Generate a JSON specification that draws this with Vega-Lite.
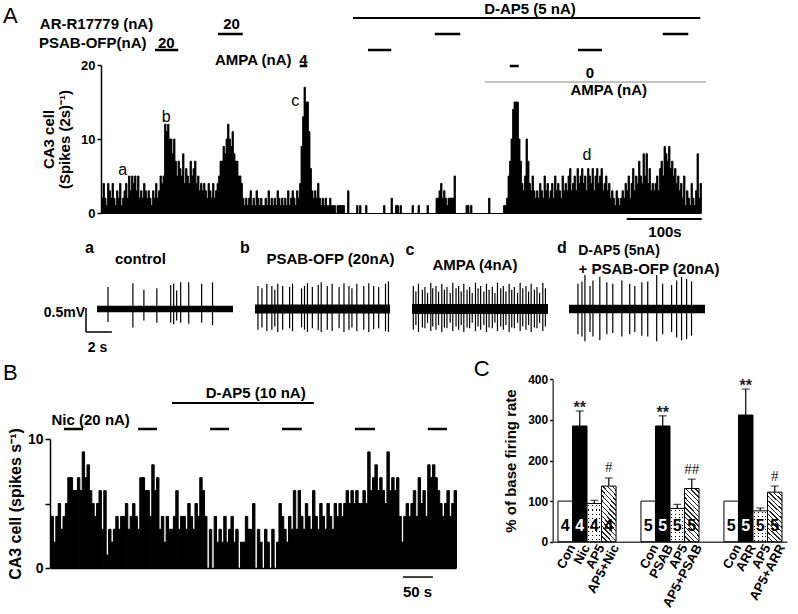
{
  "$schema": "https://vega.github.io/schema/vega-lite/v6.json",
  "width": 798,
  "height": 614,
  "autosize": {"type": "none"},
  "padding": 0,
  "background": "white",
  "config": {
    "view": {"stroke": null},
    "font": "Liberation Sans",
    "text": {"color": "black"},
    "axis": {"grid": false, "domainColor": "black", "tickColor": "black", "labelColor": "black", "titleColor": "black", "labelFont": "Liberation Sans", "titleFont": "Liberation Sans", "labelFontWeight": "bold", "titleFontWeight": "bold", "labelFlush": false, "labelOverlap": false}
  },
  "datasets": {
    "histA": [{"t":0,"n":2},{"t":2,"n":4},{"t":4,"n":2},{"t":6,"n":1},{"t":8,"n":4},{"t":10,"n":3},{"t":12,"n":2},{"t":14,"n":4},{"t":16,"n":2},{"t":18,"n":1},
{"t":20,"n":3},{"t":22,"n":2},{"t":24,"n":4},{"t":26,"n":1},{"t":28,"n":2},{"t":30,"n":3},{"t":32,"n":4},{"t":34,"n":2},{"t":36,"n":5},{"t":38,"n":3},
{"t":40,"n":5},{"t":42,"n":4},{"t":44,"n":5},{"t":46,"n":3},{"t":48,"n":5},{"t":50,"n":2},{"t":52,"n":3},{"t":54,"n":2},{"t":56,"n":4},{"t":58,"n":3},
{"t":60,"n":2},{"t":62,"n":3},{"t":64,"n":2},{"t":66,"n":1},{"t":68,"n":3},{"t":70,"n":2},{"t":72,"n":4},{"t":74,"n":2},{"t":76,"n":3},{"t":78,"n":5},
{"t":80,"n":4},{"t":82,"n":5},{"t":84,"n":12},{"t":86,"n":11},{"t":88,"n":12},{"t":90,"n":10},{"t":92,"n":10},{"t":94,"n":8},{"t":96,"n":10},{"t":98,"n":7},
{"t":100,"n":5},{"t":102,"n":7},{"t":104,"n":6},{"t":106,"n":5},{"t":108,"n":8},{"t":110,"n":4},{"t":112,"n":6},{"t":114,"n":5},{"t":116,"n":4},{"t":118,"n":7},
{"t":120,"n":5},{"t":122,"n":6},{"t":124,"n":7},{"t":126,"n":4},{"t":128,"n":5},{"t":130,"n":3},{"t":132,"n":4},{"t":134,"n":3},{"t":136,"n":4},{"t":138,"n":3},
{"t":140,"n":2},{"t":142,"n":4},{"t":144,"n":3},{"t":146,"n":2},{"t":148,"n":4},{"t":150,"n":2},{"t":152,"n":3},{"t":154,"n":4},{"t":156,"n":5},{"t":158,"n":7},
{"t":160,"n":7},{"t":162,"n":9},{"t":164,"n":8},{"t":166,"n":10},{"t":168,"n":12},{"t":170,"n":10},{"t":172,"n":9},{"t":174,"n":11},{"t":176,"n":8},{"t":178,"n":7},
{"t":180,"n":7},{"t":182,"n":5},{"t":184,"n":5},{"t":186,"n":4},{"t":188,"n":2},{"t":190,"n":1},{"t":192,"n":2},{"t":194,"n":1},{"t":196,"n":2},{"t":198,"n":3},
{"t":200,"n":1},{"t":202,"n":2},{"t":204,"n":1},{"t":206,"n":3},{"t":208,"n":2},{"t":210,"n":1},{"t":212,"n":2},{"t":214,"n":1},{"t":216,"n":1},{"t":218,"n":2},
{"t":220,"n":1},{"t":222,"n":3},{"t":224,"n":1},{"t":226,"n":2},{"t":228,"n":1},{"t":230,"n":2},{"t":232,"n":1},{"t":234,"n":3},{"t":236,"n":2},{"t":238,"n":1},
{"t":240,"n":2},{"t":242,"n":1},{"t":244,"n":2},{"t":246,"n":1},{"t":248,"n":3},{"t":250,"n":1},{"t":252,"n":2},{"t":254,"n":3},{"t":256,"n":2},{"t":258,"n":1},
{"t":260,"n":3},{"t":262,"n":2},{"t":264,"n":4},{"t":266,"n":9},{"t":268,"n":13},{"t":270,"n":17},{"t":272,"n":15},{"t":274,"n":15},{"t":276,"n":11},{"t":278,"n":6},
{"t":280,"n":3},{"t":282,"n":2},{"t":284,"n":3},{"t":286,"n":2},{"t":288,"n":4},{"t":290,"n":2},{"t":292,"n":1},{"t":294,"n":2},{"t":296,"n":1},{"t":298,"n":2},
{"t":300,"n":1},{"t":302,"n":1},{"t":304,"n":2},{"t":306,"n":1},{"t":308,"n":1},{"t":310,"n":1},{"t":314,"n":1},{"t":316,"n":1},{"t":318,"n":1},
{"t":320,"n":1},{"t":322,"n":1},{"t":328,"n":3},{"t":340,"n":1},{"t":344,"n":1},{"t":352,"n":1},{"t":376,"n":1},
{"t":386,"n":2},{"t":392,"n":1},{"t":394,"n":1},{"t":398,"n":1},{"t":414,"n":1},{"t":422,"n":1},{"t":434,"n":1},
{"t":446,"n":2},{"t":448,"n":2},{"t":450,"n":3},{"t":452,"n":4},{"t":454,"n":2},{"t":456,"n":3},{"t":458,"n":2},
{"t":460,"n":1},{"t":462,"n":2},{"t":464,"n":2},{"t":466,"n":2},{"t":468,"n":2},{"t":470,"n":5},
{"t":486,"n":1},{"t":488,"n":1},{"t":492,"n":1},{"t":516,"n":2},{"t":536,"n":1},{"t":538,"n":1},
{"t":540,"n":2},{"t":542,"n":5},{"t":544,"n":7},{"t":546,"n":10},{"t":548,"n":14},{"t":550,"n":15},{"t":552,"n":15},{"t":554,"n":15},{"t":556,"n":10},{"t":558,"n":7},
{"t":560,"n":4},{"t":562,"n":3},{"t":564,"n":5},{"t":566,"n":10},{"t":568,"n":7},{"t":570,"n":4},{"t":572,"n":3},{"t":574,"n":5},{"t":576,"n":3},{"t":578,"n":2},
{"t":580,"n":3},{"t":582,"n":2},{"t":584,"n":4},{"t":586,"n":3},{"t":588,"n":2},{"t":590,"n":5},{"t":592,"n":3},{"t":594,"n":4},{"t":596,"n":2},{"t":598,"n":3},
{"t":600,"n":4},{"t":602,"n":2},{"t":604,"n":5},{"t":606,"n":3},{"t":608,"n":4},{"t":610,"n":3},{"t":612,"n":2},{"t":614,"n":5},{"t":616,"n":3},{"t":618,"n":4},
{"t":620,"n":3},{"t":622,"n":5},{"t":624,"n":6},{"t":626,"n":3},{"t":628,"n":4},{"t":630,"n":5},{"t":632,"n":3},{"t":634,"n":6},{"t":636,"n":4},{"t":638,"n":5},
{"t":640,"n":6},{"t":642,"n":4},{"t":644,"n":5},{"t":646,"n":3},{"t":648,"n":6},{"t":650,"n":5},{"t":652,"n":4},{"t":654,"n":6},{"t":656,"n":3},{"t":658,"n":5},
{"t":660,"n":6},{"t":662,"n":4},{"t":664,"n":5},{"t":666,"n":6},{"t":668,"n":3},{"t":670,"n":4},{"t":672,"n":5},{"t":674,"n":3},{"t":676,"n":4},{"t":678,"n":2},
{"t":680,"n":3},{"t":682,"n":2},{"t":684,"n":1},{"t":686,"n":3},{"t":688,"n":2},{"t":690,"n":1},{"t":692,"n":2},{"t":694,"n":3},{"t":696,"n":2},{"t":698,"n":4},
{"t":700,"n":3},{"t":702,"n":5},{"t":704,"n":2},{"t":706,"n":4},{"t":708,"n":6},{"t":710,"n":3},{"t":712,"n":5},{"t":714,"n":4},{"t":716,"n":7},{"t":718,"n":5},
{"t":720,"n":4},{"t":722,"n":8},{"t":724,"n":5},{"t":726,"n":8},{"t":728,"n":4},{"t":730,"n":6},{"t":732,"n":3},{"t":734,"n":4},{"t":736,"n":3},{"t":738,"n":4},
{"t":740,"n":5},{"t":742,"n":3},{"t":744,"n":6},{"t":746,"n":7},{"t":748,"n":5},{"t":750,"n":9},{"t":752,"n":8},{"t":754,"n":7},{"t":756,"n":9},{"t":758,"n":6},
{"t":760,"n":7},{"t":762,"n":5},{"t":764,"n":6},{"t":766,"n":4},{"t":768,"n":5},{"t":770,"n":3},{"t":772,"n":4},{"t":774,"n":2},{"t":776,"n":5},{"t":778,"n":1},
{"t":780,"n":3},{"t":782,"n":2},{"t":784,"n":1},{"t":786,"n":4},{"t":788,"n":2},{"t":790,"n":1},{"t":792,"n":3},{"t":794,"n":8},{"t":796,"n":2},{"t":798,"n":4}],
    "histB": [{"t":0,"n":4},{"t":4,"n":2},{"t":8,"n":4},{"t":12,"n":5},{"t":16,"n":3},{"t":20,"n":4},{"t":24,"n":5},{"t":28,"n":7},{"t":32,"n":7},{"t":36,"n":6},
{"t":40,"n":6},{"t":44,"n":7},{"t":48,"n":6},{"t":52,"n":9},{"t":56,"n":7},{"t":60,"n":8},{"t":64,"n":6},{"t":68,"n":5},{"t":72,"n":4},{"t":76,"n":5},
{"t":80,"n":6},{"t":84,"n":3},{"t":88,"n":6},{"t":92,"n":1},{"t":96,"n":3},{"t":100,"n":2},{"t":104,"n":3},{"t":108,"n":4},{"t":112,"n":3},{"t":116,"n":4},
{"t":120,"n":4},{"t":124,"n":5},{"t":128,"n":3},{"t":132,"n":4},{"t":136,"n":5},{"t":140,"n":4},{"t":144,"n":3},{"t":148,"n":7},{"t":152,"n":7},{"t":156,"n":6},
{"t":160,"n":6},{"t":164,"n":4},{"t":168,"n":8},{"t":172,"n":6},{"t":176,"n":7},{"t":180,"n":3},{"t":184,"n":4},{"t":188,"n":2},{"t":192,"n":4},{"t":196,"n":3},
{"t":200,"n":3},{"t":204,"n":4},{"t":208,"n":6},{"t":212,"n":3},{"t":216,"n":4},{"t":220,"n":4},{"t":224,"n":3},{"t":228,"n":5},{"t":232,"n":4},{"t":236,"n":3},
{"t":240,"n":5},{"t":244,"n":4},{"t":248,"n":7},{"t":252,"n":6},{"t":256,"n":4},{"t":264,"n":3},{"t":272,"n":4},{"t":276,"n":2},
{"t":280,"n":3},{"t":284,"n":2},{"t":288,"n":4},{"t":292,"n":2},{"t":296,"n":3},{"t":300,"n":4},{"t":304,"n":2},{"t":308,"n":3},{"t":316,"n":2},
{"t":320,"n":2},{"t":324,"n":4},{"t":328,"n":3},{"t":332,"n":3},{"t":336,"n":5},{"t":344,"n":3},{"t":348,"n":2},{"t":356,"n":3},
{"t":360,"n":2},{"t":368,"n":3},{"t":376,"n":2},{"t":380,"n":5},{"t":384,"n":4},{"t":388,"n":3},{"t":392,"n":2},{"t":396,"n":4},
{"t":400,"n":3},{"t":404,"n":6},{"t":408,"n":3},{"t":412,"n":6},{"t":416,"n":4},{"t":420,"n":3},{"t":424,"n":5},{"t":428,"n":4},{"t":432,"n":3},{"t":436,"n":6},
{"t":440,"n":4},{"t":444,"n":3},{"t":448,"n":5},{"t":452,"n":4},{"t":456,"n":3},{"t":460,"n":5},{"t":464,"n":4},{"t":468,"n":3},{"t":472,"n":5},{"t":476,"n":4},
{"t":480,"n":5},{"t":484,"n":4},{"t":488,"n":5},{"t":492,"n":6},{"t":496,"n":5},{"t":500,"n":6},{"t":504,"n":5},{"t":508,"n":6},{"t":512,"n":5},{"t":516,"n":5},
{"t":520,"n":6},{"t":524,"n":5},{"t":528,"n":9},{"t":532,"n":6},{"t":536,"n":7},{"t":540,"n":8},{"t":544,"n":6},{"t":548,"n":7},{"t":552,"n":6},{"t":556,"n":5},
{"t":560,"n":9},{"t":564,"n":6},{"t":568,"n":7},{"t":572,"n":6},{"t":576,"n":7},{"t":580,"n":4},{"t":584,"n":2},{"t":588,"n":4},{"t":592,"n":5},{"t":596,"n":4},
{"t":600,"n":5},{"t":604,"n":6},{"t":608,"n":4},{"t":612,"n":7},{"t":616,"n":5},{"t":620,"n":6},{"t":624,"n":4},{"t":628,"n":8},{"t":632,"n":7},{"t":636,"n":8},
{"t":640,"n":7},{"t":644,"n":6},{"t":648,"n":5},{"t":652,"n":4},{"t":656,"n":5},{"t":660,"n":6},{"t":664,"n":4},{"t":668,"n":5},{"t":672,"n":6}],
    "lettersA": [{"t":29,"n":5.8,"txt":"a"},{"t":87,"n":13,"txt":"b"},{"t":259,"n":15.1,"txt":"c"},{"t":648,"n":7.8,"txt":"d"}],
    "annA": [{"row":"dap5","t":336,"t2":799},
      {"row":"arr","t":156,"t2":189},{"row":"arr","t":445,"t2":479},{"row":"arr","t":749,"t2":783},
      {"row":"psab","t":72,"t2":103},{"row":"psab","t":356,"t2":387},{"row":"psab","t":636,"t2":668},
      {"row":"ampa","t":265,"t2":275},{"row":"ampa","t":545,"t2":557},
      {"row":"ampa0","t":512,"t2":807}],
    "labA": [{"row":"dap5","t":572,"txt":"D-AP5 (5 nA)"},{"row":"dap5","t":-121,"txt":"A"},
      {"row":"arr","t":-6,"txt":"AR-R17779 (nA)"},{"row":"arr","t":174,"txt":"20"},
      {"row":"psab","t":-11,"txt":"PSAB-OFP(nA)"},{"row":"psab","t":87,"txt":"20"},
      {"row":"ampa","t":203,"txt":"AMPA (nA)"},{"row":"ampa","t":270,"txt":"4"},
      {"row":"ampa0","t":652,"txt":"0"},{"row":"ampa0","t":677,"txt":"AMPA (nA)"}],
    "annB": [{"row":"dap5","t":202.5,"t2":439},
      {"row":"nic","t":22.5,"t2":54},{"row":"nic","t":146,"t2":177.5},{"row":"nic","t":266,"t2":297.5},
      {"row":"nic","t":386,"t2":419},{"row":"nic","t":507.5,"t2":541},{"row":"nic","t":629,"t2":661}],
    "labB": [{"row":"dap5","t":342,"txt":"D-AP5 (10 nA)"},{"row":"nic","t":67,"txt":"Nic (20 nA)"},
      {"row":"dap5","t":-67,"txt":"B"},{"row":"dap5","t":719,"txt":"C"}],
    "spikes": [
      {"tr":"a","t":0.85,"hi":0.48,"lo":-0.28},{"tr":"a","t":2.77,"hi":0.56,"lo":-0.4},{"tr":"a","t":3.62,"hi":0.42,"lo":-0.25},
      {"tr":"a","t":4.62,"hi":0.45,"lo":-0.3},{"tr":"a","t":5.69,"hi":0.52,"lo":-0.3},{"tr":"a","t":5.92,"hi":0.55,"lo":-0.33},
      {"tr":"a","t":6.15,"hi":0.4,"lo":-0.25},{"tr":"a","t":6.46,"hi":0.58,"lo":-0.3},{"tr":"a","t":7.08,"hi":0.58,"lo":-0.32},
      {"tr":"a","t":8.08,"hi":0.55,"lo":-0.3},{"tr":"a","t":8.92,"hi":0.58,"lo":-0.35},
      {"tr":"b","t":0.23,"hi":0.5,"lo":-0.45},{"tr":"b","t":0.54,"hi":0.45,"lo":-0.4},{"tr":"b","t":0.92,"hi":0.55,"lo":-0.48},
      {"tr":"b","t":1.31,"hi":0.5,"lo":-0.45},{"tr":"b","t":1.54,"hi":0.42,"lo":-0.38},{"tr":"b","t":1.77,"hi":0.55,"lo":-0.5},
      {"tr":"b","t":2.15,"hi":0.5,"lo":-0.45},{"tr":"b","t":2.69,"hi":0.48,"lo":-0.42},{"tr":"b","t":2.92,"hi":0.55,"lo":-0.48},
      {"tr":"b","t":3.62,"hi":0.45,"lo":-0.4},{"tr":"b","t":3.85,"hi":0.5,"lo":-0.45},{"tr":"b","t":4.08,"hi":0.56,"lo":-0.5},
      {"tr":"b","t":4.46,"hi":0.48,"lo":-0.42},{"tr":"b","t":4.92,"hi":0.52,"lo":-0.46},{"tr":"b","t":5.15,"hi":0.58,"lo":-0.5},
      {"tr":"b","t":5.62,"hi":0.5,"lo":-0.45},{"tr":"b","t":6.0,"hi":0.55,"lo":-0.48},{"tr":"b","t":6.54,"hi":0.48,"lo":-0.42},
      {"tr":"b","t":6.92,"hi":0.56,"lo":-0.5},{"tr":"b","t":7.31,"hi":0.5,"lo":-0.45},{"tr":"b","t":7.54,"hi":0.45,"lo":-0.4},
      {"tr":"b","t":7.92,"hi":0.55,"lo":-0.48},{"tr":"b","t":8.46,"hi":0.5,"lo":-0.45},{"tr":"b","t":8.85,"hi":0.56,"lo":-0.5},
      {"tr":"b","t":9.23,"hi":0.5,"lo":-0.44},{"tr":"b","t":9.62,"hi":0.48,"lo":-0.42},{"tr":"b","t":10.15,"hi":0.55,"lo":-0.48},
      {"tr":"b","t":10.38,"hi":0.6,"lo":-0.5},
      {"tr":"c","t":0.1,"hi":0.5,"lo":-0.45},{"tr":"c","t":0.3,"hi":0.38,"lo":-0.35},{"tr":"c","t":0.5,"hi":0.55,"lo":-0.5},
      {"tr":"c","t":0.8,"hi":0.42,"lo":-0.4},{"tr":"c","t":1.0,"hi":0.48,"lo":-0.42},{"tr":"c","t":1.2,"hi":0.35,"lo":-0.3},
      {"tr":"c","t":1.45,"hi":0.57,"lo":-0.48},{"tr":"c","t":1.6,"hi":0.45,"lo":-0.38},{"tr":"c","t":1.85,"hi":0.5,"lo":-0.45},
      {"tr":"c","t":2.05,"hi":0.38,"lo":-0.35},{"tr":"c","t":2.3,"hi":0.55,"lo":-0.5},{"tr":"c","t":2.5,"hi":0.42,"lo":-0.4},
      {"tr":"c","t":2.7,"hi":0.48,"lo":-0.42},{"tr":"c","t":2.95,"hi":0.35,"lo":-0.3},{"tr":"c","t":3.15,"hi":0.57,"lo":-0.48},
      {"tr":"c","t":3.4,"hi":0.45,"lo":-0.38},{"tr":"c","t":3.6,"hi":0.5,"lo":-0.45},{"tr":"c","t":3.8,"hi":0.38,"lo":-0.35},
      {"tr":"c","t":4.0,"hi":0.55,"lo":-0.5},{"tr":"c","t":4.25,"hi":0.42,"lo":-0.4},{"tr":"c","t":4.45,"hi":0.48,"lo":-0.42},
      {"tr":"c","t":4.65,"hi":0.35,"lo":-0.3},{"tr":"c","t":4.9,"hi":0.57,"lo":-0.48},{"tr":"c","t":5.1,"hi":0.45,"lo":-0.38},
      {"tr":"c","t":5.3,"hi":0.5,"lo":-0.45},{"tr":"c","t":5.55,"hi":0.38,"lo":-0.35},{"tr":"c","t":5.75,"hi":0.55,"lo":-0.5},
      {"tr":"c","t":5.95,"hi":0.42,"lo":-0.4},{"tr":"c","t":6.2,"hi":0.48,"lo":-0.42},{"tr":"c","t":6.4,"hi":0.35,"lo":-0.3},
      {"tr":"c","t":6.6,"hi":0.57,"lo":-0.48},{"tr":"c","t":6.85,"hi":0.45,"lo":-0.38},{"tr":"c","t":7.05,"hi":0.5,"lo":-0.45},
      {"tr":"c","t":7.25,"hi":0.38,"lo":-0.35},{"tr":"c","t":7.5,"hi":0.55,"lo":-0.5},{"tr":"c","t":7.7,"hi":0.42,"lo":-0.4},
      {"tr":"c","t":7.9,"hi":0.48,"lo":-0.42},{"tr":"c","t":8.15,"hi":0.35,"lo":-0.3},{"tr":"c","t":8.35,"hi":0.57,"lo":-0.48},
      {"tr":"c","t":8.55,"hi":0.45,"lo":-0.38},{"tr":"c","t":8.8,"hi":0.5,"lo":-0.45},{"tr":"c","t":9.0,"hi":0.38,"lo":-0.35},
      {"tr":"c","t":9.2,"hi":0.55,"lo":-0.5},{"tr":"c","t":9.45,"hi":0.42,"lo":-0.4},{"tr":"c","t":9.65,"hi":0.48,"lo":-0.42},
      {"tr":"c","t":9.85,"hi":0.35,"lo":-0.3},{"tr":"c","t":10.1,"hi":0.57,"lo":-0.48},{"tr":"c","t":10.3,"hi":0.45,"lo":-0.38},
      {"tr":"d","t":0.69,"hi":0.55,"lo":-0.55},{"tr":"d","t":1.0,"hi":0.6,"lo":-0.6},{"tr":"d","t":1.23,"hi":0.74,"lo":-0.7},
      {"tr":"d","t":1.62,"hi":0.5,"lo":-0.5},{"tr":"d","t":1.85,"hi":0.62,"lo":-0.6},{"tr":"d","t":2.38,"hi":0.7,"lo":-0.68},
      {"tr":"d","t":2.92,"hi":0.58,"lo":-0.55},{"tr":"d","t":3.38,"hi":0.55,"lo":-0.52},{"tr":"d","t":4.08,"hi":0.62,"lo":-0.6},
      {"tr":"d","t":4.69,"hi":0.55,"lo":-0.55},{"tr":"d","t":5.08,"hi":0.5,"lo":-0.5},{"tr":"d","t":5.62,"hi":0.58,"lo":-0.58},
      {"tr":"d","t":6.08,"hi":0.6,"lo":-0.6},{"tr":"d","t":6.77,"hi":0.74,"lo":-0.7},{"tr":"d","t":7.23,"hi":0.55,"lo":-0.55},
      {"tr":"d","t":7.92,"hi":0.52,"lo":-0.5},{"tr":"d","t":8.31,"hi":0.62,"lo":-0.62},{"tr":"d","t":8.69,"hi":0.7,"lo":-0.68},
      {"tr":"d","t":9.08,"hi":0.65,"lo":-0.65},{"tr":"d","t":9.46,"hi":0.6,"lo":-0.58}],
    "rates": [
      {"grp":"Nic","cond":"Con","lab":"Con","m":100,"n":4},
      {"grp":"Nic","cond":"Drug","lab":"Nic","m":285,"up":322,"n":4,"sig":"**"},
      {"grp":"Nic","cond":"AP5","lab":"AP5","m":94,"up":102,"n":4},
      {"grp":"Nic","cond":"AP5+Drug","lab":"AP5+Nic","m":137,"up":157,"n":4,"sig":"#"},
      {"grp":"PSAB","cond":"Con","lab":"Con","m":100,"n":5},
      {"grp":"PSAB","cond":"Drug","lab":"PSAB","m":285,"up":310,"n":5,"sig":"**"},
      {"grp":"PSAB","cond":"AP5","lab":"AP5","m":82,"up":92,"n":5},
      {"grp":"PSAB","cond":"AP5+Drug","lab":"AP5+PSAB","m":131,"up":154,"n":5,"sig":"##"},
      {"grp":"ARR","cond":"Con","lab":"Con","m":100,"n":5},
      {"grp":"ARR","cond":"Drug","lab":"ARR","m":312,"up":376,"n":5,"sig":"**"},
      {"grp":"ARR","cond":"AP5","lab":"AP5","m":76,"up":83,"n":5},
      {"grp":"ARR","cond":"AP5+Drug","lab":"AP5+ARR","m":122,"up":137,"n":5,"sig":"#"}]
  },
  "layer": [
    {
      "layer": [
        {
          "data": {"name": "histA"},
          "mark": {"type": "bar", "color": "black", "stroke": "black", "strokeWidth": 0.8, "binSpacing": 0},
          "encoding": {
            "x": {"field": "t", "type": "quantitative", "bin": {"binned": true, "step": 2},
                  "scale": {"domain": [0, 800], "range": [101, 701], "nice": false, "zero": false},
                  "axis": {"orient": "bottom", "offset": -401, "labels": false, "ticks": false, "domain": true, "domainWidth": 1, "title": null}},
            "y": {"field": "n", "type": "quantitative",
                  "scale": {"domain": [0, 20], "range": [213, 65], "nice": false},
                  "axis": {"orient": "left", "offset": -101, "values": [0, 10, 20], "format": "d", "tickSize": 4, "tickWidth": 1.5, "domainWidth": 1.5, "labelFontSize": 13, "labelPadding": 2, "title": ["CA3 cell", "(Spikes (2s)⁻¹)"], "titleFontSize": 15, "titlePadding": 8, "titleLineHeight": 16}}
          }
        },
        {
          "data": {"values": [{}]},
          "mark": {"type": "rule", "color": "black", "strokeWidth": 2},
          "encoding": {"x": {"datum": 701, "type": "quantitative"}, "x2": {"datum": 801}, "y": {"datum": -0.81, "type": "quantitative"}}
        },
        {
          "data": {"values": [{}]},
          "mark": {"type": "text", "text": "100s", "fontWeight": "bold", "fontSize": 15, "baseline": "middle", "color": "black"},
          "encoding": {"x": {"datum": 752, "type": "quantitative"}, "y": {"datum": -2.6, "type": "quantitative"}}
        },
        {
          "data": {"name": "lettersA"},
          "mark": {"type": "text", "fontSize": 16, "baseline": "middle", "color": "black"},
          "encoding": {"x": {"field": "t", "type": "quantitative"}, "y": {"field": "n", "type": "quantitative"}, "text": {"field": "txt"}}
        }
      ]
    },
    {
      "encoding": {
        "x": {"field": "t", "type": "quantitative", "scale": {"domain": [0, 800], "range": [101, 701], "nice": false, "zero": false}, "axis": null},
        "y": {"field": "row", "type": "nominal", "scale": {"type": "point", "domain": ["dap5", "arr", "psab", "ampa", "ampa0"], "range": [18, 82], "padding": 0}, "axis": null}
      },
      "layer": [
        {"data": {"name": "annA"}, "transform": [{"filter": "datum.row === 'dap5'"}], "mark": {"type": "rule", "color": "black", "strokeWidth": 2}, "encoding": {"x2": {"field": "t2"}}},
        {"data": {"name": "annA"}, "transform": [{"filter": "datum.row !== 'ampa0' && datum.row !== 'dap5'"}], "mark": {"type": "rule", "color": "black", "strokeWidth": 2.5}, "encoding": {"x2": {"field": "t2"}}},
        {"data": {"name": "annA"}, "transform": [{"filter": "datum.row === 'ampa0'"}], "mark": {"type": "rule", "color": "#888888", "strokeWidth": 1}, "encoding": {"x2": {"field": "t2"}}},
        {"data": {"name": "labA"}, "transform": [{"filter": "datum.row === 'dap5' && datum.txt !== 'A'"}], "mark": {"type": "text", "color": "black", "fontWeight": "bold", "fontSize": 15, "baseline": "middle", "dy": -9}, "encoding": {"text": {"field": "txt"}}},
        {"data": {"name": "labA"}, "transform": [{"filter": "datum.txt === 'A'"}], "mark": {"type": "text", "color": "black", "fontSize": 22, "baseline": "middle", "dy": -2}, "encoding": {"text": {"field": "txt"}}},
        {"data": {"name": "labA"}, "transform": [{"filter": "datum.row === 'arr'"}], "mark": {"type": "text", "color": "black", "fontWeight": "bold", "fontSize": 15, "baseline": "middle", "dy": -10}, "encoding": {"text": {"field": "txt"}}},
        {"data": {"name": "labA"}, "transform": [{"filter": "datum.row === 'psab'"}], "mark": {"type": "text", "color": "black", "fontWeight": "bold", "fontSize": 15, "baseline": "middle", "dy": -7}, "encoding": {"text": {"field": "txt"}}},
        {"data": {"name": "labA"}, "transform": [{"filter": "datum.row === 'ampa'"}], "mark": {"type": "text", "color": "black", "fontWeight": "bold", "fontSize": 15, "baseline": "middle", "dy": -6.5}, "encoding": {"text": {"field": "txt"}}},
        {"data": {"name": "labA"}, "transform": [{"filter": "datum.row === 'ampa0' && datum.txt === '0'"}], "mark": {"type": "text", "color": "black", "fontWeight": "bold", "fontSize": 15, "baseline": "middle", "dy": -9}, "encoding": {"text": {"field": "txt"}}},
        {"data": {"name": "labA"}, "transform": [{"filter": "datum.row === 'ampa0' && datum.txt !== '0'"}], "mark": {"type": "text", "color": "black", "fontWeight": "bold", "fontSize": 15, "baseline": "middle", "dy": 8}, "encoding": {"text": {"field": "txt"}}}
      ]
    },
    {
      "layer": [
        {"data": {"values": [{}]}, "mark": {"type": "rect", "color": "black"},
         "encoding": {"x": {"datum": 0, "type": "quantitative", "scale": {"domain": [0, 10.5], "range": [97, 233], "nice": false, "zero": false}, "axis": null}, "x2": {"datum": 10.5},
                      "y": {"datum": -0.072, "type": "quantitative", "scale": {"domain": [-1, 1], "range": [355, 263], "nice": false, "zero": false}, "axis": null}, "y2": {"datum": 0.072}}},
        {"data": {"name": "spikes"}, "transform": [{"filter": "datum.tr === 'a'"}], "mark": {"type": "rule", "color": "black", "strokeWidth": 1.2},
         "encoding": {"x": {"field": "t", "type": "quantitative"}, "y": {"field": "lo", "type": "quantitative"}, "y2": {"field": "hi"}}},
        {"data": {"values": [{}]}, "mark": {"type": "rule", "color": "black", "strokeWidth": 1.5},
         "encoding": {"x": {"datum": -0.85, "type": "quantitative"}, "y": {"datum": 0.02, "type": "quantitative"}, "y2": {"datum": -0.5}}},
        {"data": {"values": [{}]}, "mark": {"type": "rule", "color": "black", "strokeWidth": 1.5},
         "encoding": {"x": {"datum": -0.85, "type": "quantitative"}, "x2": {"datum": 1.15}, "y": {"datum": -0.5, "type": "quantitative"}}},
        {"data": {"values": [{}]}, "mark": {"type": "text", "text": "0.5mV", "color": "black", "fontWeight": "bold", "fontSize": 14, "baseline": "middle", "align": "right"},
         "encoding": {"x": {"datum": -0.92, "type": "quantitative"}, "y": {"datum": -0.09, "type": "quantitative"}}},
        {"data": {"values": [{}]}, "mark": {"type": "text", "text": "2 s", "color": "black", "fontWeight": "bold", "fontSize": 14, "baseline": "middle"},
         "encoding": {"x": {"datum": 0.04, "type": "quantitative"}, "y": {"datum": -0.85, "type": "quantitative"}}},
        {"data": {"values": [{}]}, "mark": {"type": "text", "text": "a", "color": "black", "fontWeight": "bold", "fontSize": 16, "baseline": "middle"},
         "encoding": {"x": {"datum": -0.58, "type": "quantitative"}, "y": {"datum": 1.33, "type": "quantitative"}}},
        {"data": {"values": [{}]}, "mark": {"type": "text", "text": "control", "color": "black", "fontWeight": "bold", "fontSize": 15, "baseline": "middle"},
         "encoding": {"x": {"datum": 3.35, "type": "quantitative"}, "y": {"datum": 1.09, "type": "quantitative"}}}
      ]
    },
    {
      "layer": [
        {"data": {"values": [{}]}, "mark": {"type": "rect", "color": "black"},
         "encoding": {"x": {"datum": 0, "type": "quantitative", "scale": {"domain": [0, 10.5], "range": [255, 390], "nice": false, "zero": false}, "axis": null}, "x2": {"datum": 10.5},
                      "y": {"datum": -0.098, "type": "quantitative", "scale": {"domain": [-1, 1], "range": [355, 263], "nice": false, "zero": false}, "axis": null}, "y2": {"datum": 0.098}}},
        {"data": {"name": "spikes"}, "transform": [{"filter": "datum.tr === 'b'"}], "mark": {"type": "rule", "color": "black", "strokeWidth": 1.2},
         "encoding": {"x": {"field": "t", "type": "quantitative"}, "y": {"field": "lo", "type": "quantitative"}, "y2": {"field": "hi"}}},
        {"data": {"values": [{}]}, "mark": {"type": "text", "text": "b", "color": "black", "fontWeight": "bold", "fontSize": 16, "baseline": "middle"},
         "encoding": {"x": {"datum": -0.78, "type": "quantitative"}, "y": {"datum": 1.33, "type": "quantitative"}}},
        {"data": {"values": [{}]}, "mark": {"type": "text", "text": "PSAB-OFP (20nA)", "color": "black", "fontWeight": "bold", "fontSize": 15, "baseline": "middle"},
         "encoding": {"x": {"datum": 5.87, "type": "quantitative"}, "y": {"datum": 1.09, "type": "quantitative"}}}
      ]
    },
    {
      "layer": [
        {"data": {"values": [{}]}, "mark": {"type": "rect", "color": "black"},
         "encoding": {"x": {"datum": 0, "type": "quantitative", "scale": {"domain": [0, 10.5], "range": [412, 548], "nice": false, "zero": false}, "axis": null}, "x2": {"datum": 10.5},
                      "y": {"datum": -0.11, "type": "quantitative", "scale": {"domain": [-1, 1], "range": [355, 263], "nice": false, "zero": false}, "axis": null}, "y2": {"datum": 0.11}}},
        {"data": {"name": "spikes"}, "transform": [{"filter": "datum.tr === 'c'"}], "mark": {"type": "rule", "color": "black", "strokeWidth": 1.2},
         "encoding": {"x": {"field": "t", "type": "quantitative"}, "y": {"field": "lo", "type": "quantitative"}, "y2": {"field": "hi"}}},
        {"data": {"values": [{}]}, "mark": {"type": "text", "text": "c", "color": "black", "fontWeight": "bold", "fontSize": 16, "baseline": "middle"},
         "encoding": {"x": {"datum": -0.15, "type": "quantitative"}, "y": {"datum": 1.28, "type": "quantitative"}}},
        {"data": {"values": [{}]}, "mark": {"type": "text", "text": "AMPA (4nA)", "color": "black", "fontWeight": "bold", "fontSize": 15, "baseline": "middle"},
         "encoding": {"x": {"datum": 4.86, "type": "quantitative"}, "y": {"datum": 0.96, "type": "quantitative"}}}
      ]
    },
    {
      "layer": [
        {"data": {"values": [{}]}, "mark": {"type": "rect", "color": "black"},
         "encoding": {"x": {"datum": 0, "type": "quantitative", "scale": {"domain": [0, 10.5], "range": [569, 705], "nice": false, "zero": false}, "axis": null}, "x2": {"datum": 10.5},
                      "y": {"datum": -0.09, "type": "quantitative", "scale": {"domain": [-1, 1], "range": [355, 263], "nice": false, "zero": false}, "axis": null}, "y2": {"datum": 0.09}}},
        {"data": {"name": "spikes"}, "transform": [{"filter": "datum.tr === 'd'"}], "mark": {"type": "rule", "color": "black", "strokeWidth": 1.2},
         "encoding": {"x": {"field": "t", "type": "quantitative"}, "y": {"field": "lo", "type": "quantitative"}, "y2": {"field": "hi"}}},
        {"data": {"values": [{}]}, "mark": {"type": "text", "text": "d", "color": "black", "fontWeight": "bold", "fontSize": 16, "baseline": "middle"},
         "encoding": {"x": {"datum": -0.54, "type": "quantitative"}, "y": {"datum": 1.33, "type": "quantitative"}}},
        {"data": {"values": [{}]}, "mark": {"type": "text", "text": "D-AP5 (5nA)", "color": "black", "fontWeight": "bold", "fontSize": 14, "baseline": "middle"},
         "encoding": {"x": {"datum": 3.86, "type": "quantitative"}, "y": {"datum": 1.27, "type": "quantitative"}}},
        {"data": {"values": [{}]}, "mark": {"type": "text", "text": "+ PSAB-OFP (20nA)", "color": "black", "fontWeight": "bold", "fontSize": 15, "baseline": "middle"},
         "encoding": {"x": {"datum": 6.18, "type": "quantitative"}, "y": {"datum": 0.87, "type": "quantitative"}}}
      ]
    },
    {
      "layer": [
        {
          "data": {"name": "histB"},
          "mark": {"type": "bar", "color": "black", "stroke": "black", "strokeWidth": 1, "binSpacing": 0},
          "encoding": {
            "x": {"field": "t", "type": "quantitative", "bin": {"binned": true, "step": 4},
                  "scale": {"domain": [0, 676], "range": [50.5, 456], "nice": false, "zero": false},
                  "axis": {"orient": "bottom", "offset": -46, "labels": false, "ticks": false, "domain": true, "domainWidth": 1.5, "title": null}},
            "y": {"field": "n", "type": "quantitative",
                  "scale": {"domain": [0, 10], "range": [568, 439], "nice": false},
                  "axis": {"orient": "left", "offset": -50, "values": [0, 5, 10], "format": "d", "labelExpr": "datum.value == 5 ? '' : datum.label", "tickSize": 5, "tickWidth": 1.5, "domainWidth": 1.5, "labelFontSize": 14, "labelPadding": 2, "title": "CA3 cell (spikes s⁻¹)", "titleFontSize": 16, "titlePadding": 4}}
          }
        },
        {
          "data": {"values": [{}]},
          "mark": {"type": "rule", "color": "black", "strokeWidth": 1.5},
          "encoding": {"x": {"datum": 587.5, "type": "quantitative"}, "x2": {"datum": 637.5}, "y": {"datum": -0.7, "type": "quantitative"}}
        },
        {
          "data": {"values": [{}]},
          "mark": {"type": "text", "text": "50 s", "color": "black", "fontWeight": "bold", "fontSize": 15, "baseline": "middle"},
          "encoding": {"x": {"datum": 612, "type": "quantitative"}, "y": {"datum": -1.86, "type": "quantitative"}}
        }
      ]
    },
    {
      "encoding": {
        "x": {"field": "t", "type": "quantitative", "scale": {"domain": [0, 676], "range": [50.5, 456], "nice": false, "zero": false}, "axis": null},
        "y": {"field": "row", "type": "nominal", "scale": {"type": "point", "domain": ["dap5", "nic"], "range": [403, 429], "padding": 0}, "axis": null}
      },
      "layer": [
        {"data": {"name": "annB"}, "transform": [{"filter": "datum.row === 'dap5'"}], "mark": {"type": "rule", "color": "black", "strokeWidth": 2}, "encoding": {"x2": {"field": "t2"}}},
        {"data": {"name": "annB"}, "transform": [{"filter": "datum.row === 'nic'"}], "mark": {"type": "rule", "color": "black", "strokeWidth": 2.5}, "encoding": {"x2": {"field": "t2"}}},
        {"data": {"name": "labB"}, "transform": [{"filter": "datum.row === 'dap5' && datum.txt.length > 1"}], "mark": {"type": "text", "color": "black", "fontWeight": "bold", "fontSize": 15, "baseline": "middle", "dy": -10}, "encoding": {"text": {"field": "txt"}}},
        {"data": {"name": "labB"}, "transform": [{"filter": "datum.row === 'nic'"}], "mark": {"type": "text", "color": "black", "fontWeight": "bold", "fontSize": 15, "baseline": "middle", "dy": -9}, "encoding": {"text": {"field": "txt"}}},
        {"data": {"name": "labB"}, "transform": [{"filter": "datum.txt === 'B'"}], "mark": {"type": "text", "color": "black", "fontSize": 22, "baseline": "middle", "dy": -30}, "encoding": {"text": {"field": "txt"}}},
        {"data": {"name": "labB"}, "transform": [{"filter": "datum.txt === 'C'"}], "mark": {"type": "text", "color": "black", "fontSize": 22, "baseline": "middle", "dy": -34}, "encoding": {"text": {"field": "txt"}}}
      ]
    },
    {
      "data": {"name": "rates"},
      "encoding": {
        "x": {"field": "grp", "type": "nominal", "scale": {"domain": ["Nic", "PSAB", "ARR"], "range": [553, 787], "paddingInner": 0.3, "paddingOuter": 0.06},
              "axis": {"orient": "bottom", "offset": -72.3, "labels": false, "ticks": false, "domain": true, "domainWidth": 1.5, "domainColor": "#444444", "title": null}},
        "xOffset": {"field": "cond", "type": "nominal", "scale": {"domain": ["Con", "Drug", "AP5", "AP5+Drug"], "paddingInner": 0, "paddingOuter": 0}},
        "y": {"field": "m", "type": "quantitative", "scale": {"domain": [0, 400], "range": [541.7, 379.3], "nice": false},
              "axis": {"orient": "left", "offset": -552.7, "values": [0, 100, 200, 300, 400], "format": "d", "tickSize": 3, "tickWidth": 1.5, "domainWidth": 1.5, "domainColor": "#444444", "labelFontSize": 12, "labelPadding": 2, "title": "% of base firing rate", "titleFontSize": 15, "titlePadding": 9}}
      },
      "layer": [
        {"transform": [{"filter": "datum.cond === 'Con' || datum.cond === 'Drug'"}],
         "mark": {"type": "bar", "stroke": "black", "strokeWidth": 1},
         "encoding": {"color": {"field": "cond", "type": "nominal", "scale": {"domain": ["Con", "Drug"], "range": ["white", "black"]}, "legend": null}}},
        {"transform": [{"filter": "datum.cond === 'AP5'"}],
         "mark": {"type": "bar", "color": {"gradient": "linear", "x1": 0, "y1": 0, "x2": 0, "y2": 1, "stops": [
           {"offset": 0, "color": "#ffffff"}, {"offset": 0.045, "color": "#ffffff"}, {"offset": 0.045, "color": "#000000"}, {"offset": 0.075, "color": "#000000"}, {"offset": 0.075, "color": "#ffffff"},
           {"offset": 0.1561, "color": "#ffffff"}, {"offset": 0.1561, "color": "#000000"}, {"offset": 0.1861, "color": "#000000"}, {"offset": 0.1861, "color": "#ffffff"},
           {"offset": 0.2672, "color": "#ffffff"}, {"offset": 0.2672, "color": "#000000"}, {"offset": 0.2972, "color": "#000000"}, {"offset": 0.2972, "color": "#ffffff"},
           {"offset": 0.3783, "color": "#ffffff"}, {"offset": 0.3783, "color": "#000000"}, {"offset": 0.4083, "color": "#000000"}, {"offset": 0.4083, "color": "#ffffff"},
           {"offset": 0.4894, "color": "#ffffff"}, {"offset": 0.4894, "color": "#000000"}, {"offset": 0.5194, "color": "#000000"}, {"offset": 0.5194, "color": "#ffffff"},
           {"offset": 0.6006, "color": "#ffffff"}, {"offset": 0.6006, "color": "#000000"}, {"offset": 0.6306, "color": "#000000"}, {"offset": 0.6306, "color": "#ffffff"},
           {"offset": 0.7117, "color": "#ffffff"}, {"offset": 0.7117, "color": "#000000"}, {"offset": 0.7417, "color": "#000000"}, {"offset": 0.7417, "color": "#ffffff"},
           {"offset": 0.8228, "color": "#ffffff"}, {"offset": 0.8228, "color": "#000000"}, {"offset": 0.8528, "color": "#000000"}, {"offset": 0.8528, "color": "#ffffff"},
           {"offset": 0.9339, "color": "#ffffff"}, {"offset": 0.9339, "color": "#000000"}, {"offset": 0.9639, "color": "#000000"}, {"offset": 0.9639, "color": "#ffffff"},
           {"offset": 1, "color": "#ffffff"}]}}},
        {"transform": [{"filter": "datum.cond === 'AP5'"}],
         "mark": {"type": "bar", "stroke": "black", "strokeWidth": 1, "color": {"gradient": "linear", "x1": 0, "y1": 0, "x2": 1, "y2": 0, "stops": [
           {"offset": 0, "color": "#ffffff"}, {"offset": 0.1, "color": "#ffffff"}, {"offset": 0.1, "color": "rgba(255,255,255,0)"}, {"offset": 0.17, "color": "rgba(255,255,255,0)"}, {"offset": 0.17, "color": "#ffffff"},
           {"offset": 0.35, "color": "#ffffff"}, {"offset": 0.35, "color": "rgba(255,255,255,0)"}, {"offset": 0.42, "color": "rgba(255,255,255,0)"}, {"offset": 0.42, "color": "#ffffff"},
           {"offset": 0.6, "color": "#ffffff"}, {"offset": 0.6, "color": "rgba(255,255,255,0)"}, {"offset": 0.67, "color": "rgba(255,255,255,0)"}, {"offset": 0.67, "color": "#ffffff"},
           {"offset": 0.85, "color": "#ffffff"}, {"offset": 0.85, "color": "rgba(255,255,255,0)"}, {"offset": 0.92, "color": "rgba(255,255,255,0)"}, {"offset": 0.92, "color": "#ffffff"},
           {"offset": 1, "color": "#ffffff"}]}}},
        {"transform": [{"filter": "datum.cond === 'AP5+Drug'"}],
         "mark": {"type": "bar", "stroke": "black", "strokeWidth": 1, "color": {"gradient": "linear", "x1": 0, "y1": 1, "x2": 0.331, "y2": -0.187, "stops": [
           {"offset": 0, "color": "#222222"}, {"offset": 0.022, "color": "#222222"}, {"offset": 0.022, "color": "#ffffff"}, {"offset": 0.0714, "color": "#ffffff"},
           {"offset": 0.0714, "color": "#222222"}, {"offset": 0.0934, "color": "#222222"}, {"offset": 0.0934, "color": "#ffffff"}, {"offset": 0.1429, "color": "#ffffff"},
           {"offset": 0.1429, "color": "#222222"}, {"offset": 0.1649, "color": "#222222"}, {"offset": 0.1649, "color": "#ffffff"}, {"offset": 0.2143, "color": "#ffffff"},
           {"offset": 0.2143, "color": "#222222"}, {"offset": 0.2363, "color": "#222222"}, {"offset": 0.2363, "color": "#ffffff"}, {"offset": 0.2857, "color": "#ffffff"},
           {"offset": 0.2857, "color": "#222222"}, {"offset": 0.3077, "color": "#222222"}, {"offset": 0.3077, "color": "#ffffff"}, {"offset": 0.3571, "color": "#ffffff"},
           {"offset": 0.3571, "color": "#222222"}, {"offset": 0.3791, "color": "#222222"}, {"offset": 0.3791, "color": "#ffffff"}, {"offset": 0.4286, "color": "#ffffff"},
           {"offset": 0.4286, "color": "#222222"}, {"offset": 0.4506, "color": "#222222"}, {"offset": 0.4506, "color": "#ffffff"}, {"offset": 0.5, "color": "#ffffff"},
           {"offset": 0.5, "color": "#222222"}, {"offset": 0.522, "color": "#222222"}, {"offset": 0.522, "color": "#ffffff"}, {"offset": 0.5714, "color": "#ffffff"},
           {"offset": 0.5714, "color": "#222222"}, {"offset": 0.5934, "color": "#222222"}, {"offset": 0.5934, "color": "#ffffff"}, {"offset": 0.6429, "color": "#ffffff"},
           {"offset": 0.6429, "color": "#222222"}, {"offset": 0.6649, "color": "#222222"}, {"offset": 0.6649, "color": "#ffffff"}, {"offset": 0.7143, "color": "#ffffff"},
           {"offset": 0.7143, "color": "#222222"}, {"offset": 0.7363, "color": "#222222"}, {"offset": 0.7363, "color": "#ffffff"}, {"offset": 0.7857, "color": "#ffffff"},
           {"offset": 0.7857, "color": "#222222"}, {"offset": 0.8077, "color": "#222222"}, {"offset": 0.8077, "color": "#ffffff"}, {"offset": 0.8571, "color": "#ffffff"},
           {"offset": 0.8571, "color": "#222222"}, {"offset": 0.8791, "color": "#222222"}, {"offset": 0.8791, "color": "#ffffff"}, {"offset": 0.9286, "color": "#ffffff"},
           {"offset": 0.9286, "color": "#222222"}, {"offset": 0.9506, "color": "#222222"}, {"offset": 0.9506, "color": "#ffffff"}, {"offset": 1, "color": "#ffffff"}]}}},
        {"transform": [{"filter": "datum.up != null"}], "mark": {"type": "rule", "color": "black", "strokeWidth": 1.2}, "encoding": {"y2": {"field": "up"}}},
        {"transform": [{"filter": "datum.up != null"}], "mark": {"type": "tick", "orient": "horizontal", "color": "black", "size": 8, "thickness": 1.2}, "encoding": {"y": {"field": "up", "type": "quantitative"}}},
        {"mark": {"type": "text", "fontWeight": "bold", "fontSize": 16, "baseline": "middle"},
         "encoding": {"y": {"datum": 39, "type": "quantitative"}, "text": {"field": "n"}, "color": {"condition": {"test": "datum.cond === 'Drug'", "value": "white"}, "value": "black"}}},
        {"transform": [{"filter": "datum.sig === '**'"}], "mark": {"type": "text", "color": "#222222", "font": "Liberation Sans", "fontWeight": "bold", "fontSize": 16, "baseline": "alphabetic", "dy": 2},
         "encoding": {"y": {"field": "up", "type": "quantitative"}, "text": {"field": "sig"}}},
        {"transform": [{"filter": "datum.sig === '#' || datum.sig === '##'"}], "mark": {"type": "text", "color": "#222222", "font": "Liberation Serif", "fontSize": 15, "baseline": "alphabetic", "dy": -5.5},
         "encoding": {"y": {"field": "up", "type": "quantitative"}, "text": {"field": "sig"}}},
        {"mark": {"type": "text", "color": "black", "fontWeight": "bold", "fontSize": 13, "baseline": "middle", "align": "right", "angle": -62, "dy": 8},
         "encoding": {"y": {"datum": 0, "type": "quantitative"}, "text": {"field": "lab"}}}
      ]
    }
  ],
  "resolve": {"scale": {"x": "independent", "y": "independent"}}
}
